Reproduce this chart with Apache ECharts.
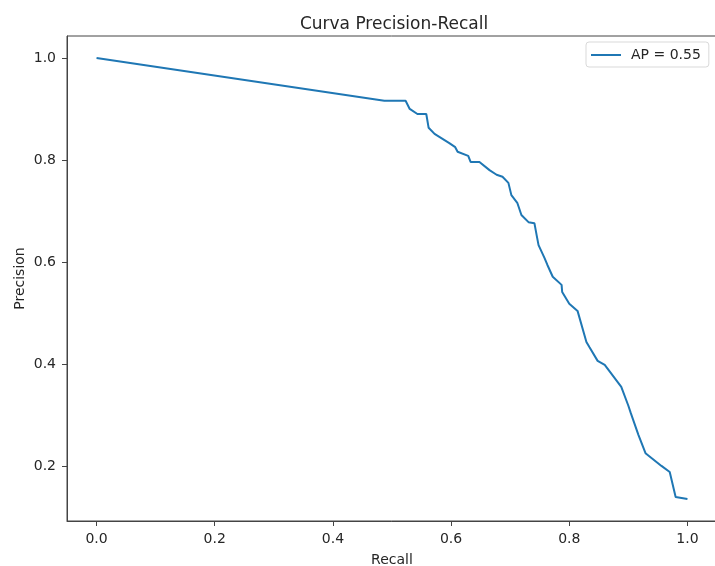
<!DOCTYPE html>
<html>
<head>
<meta charset="utf-8">
<title>Curva Precision-Recall</title>
<script src="https://cdn.jsdelivr.net/npm/echarts@6/dist/echarts.min.js"></script>
<style>
  html, body { margin: 0; padding: 0; background: #ffffff; }
  #chart { width: 715px; height: 566px; }
</style>
</head>
<body>
<div id="chart"></div>
<script>
// Precision-recall curve samples (recall, precision)
const recall = [
  0.000, 0.487, 0.523, 0.530, 0.543, 0.558, 0.562, 0.572, 0.597, 0.607,
  0.611, 0.629, 0.633, 0.648, 0.665, 0.677, 0.687, 0.697, 0.702, 0.712,
  0.719, 0.731, 0.741, 0.745, 0.748, 0.758, 0.763, 0.772, 0.787, 0.788,
  0.800, 0.814, 0.829, 0.834, 0.848, 0.860, 0.888, 0.900, 0.904, 0.917,
  0.929, 0.956, 0.970, 0.980, 1.000
];
const precision = [
  1.000, 0.916, 0.916, 0.900, 0.890, 0.890, 0.863, 0.851, 0.833, 0.825,
  0.816, 0.808, 0.796, 0.796, 0.780, 0.771, 0.767, 0.755, 0.731, 0.716,
  0.692, 0.678, 0.676, 0.651, 0.633, 0.608, 0.594, 0.571, 0.555, 0.541,
  0.518, 0.504, 0.443, 0.433, 0.406, 0.398, 0.355, 0.318, 0.304, 0.261,
  0.225, 0.200, 0.188, 0.139, 0.135
];
const seriesName = 'AP = 0.55';
const xTicks = [0.0, 0.2, 0.4, 0.6, 0.8, 1.0];
const yTicks = [0.2, 0.4, 0.6, 0.8, 1.0];

const points = recall.map((r, i) => [r, precision[i]]);

const font = 'DejaVu Sans';
const textColor = '#262626';
const spineColor = '#444444';
const lineColor = '#1f77b4';

const chart = echarts.init(document.getElementById('chart'), null, { renderer: 'canvas' });
chart.setOption({
  animation: false,
  backgroundColor: '#ffffff',
  title: {
    text: 'Curva Precision-Recall',
    left: 389,
    textAlign: 'center',
    top: 11,
    textStyle: { fontFamily: font, fontSize: 17, fontWeight: 'normal', color: textColor }
  },
  legend: {
    data: [{ name: seriesName, icon: 'path://M0 0 H30 V2 H0 Z' }],
    left: 586,
    top: 42,
    orient: 'vertical',
    itemWidth: 30,
    itemHeight: 2,
    padding: [6, 8, 5, 5],
    backgroundColor: '#ffffff',
    borderColor: '#d9d9d9',
    borderWidth: 1,
    borderRadius: 3,
    itemStyle: { color: lineColor },
    textStyle: { fontFamily: font, fontSize: 14, color: textColor, padding: [0, 0, 0, 5] }
  },
  grid: {
    left: 67,
    right: -2,
    top: 36,
    bottom: 45,
    outerBoundsMode: 'none',
    containLabel: false,
    show: true,
    borderColor: spineColor,
    borderWidth: 1,
    backgroundColor: 'transparent'
  },
  xAxis: {
    type: 'value',
    min: -0.05,
    max: 1.05,
    name: 'Recall',
    nameLocation: 'middle',
    nameGap: 32,
    nameMoveOverlap: false,
    nameTextStyle: { fontFamily: font, fontSize: 14, color: textColor },
    axisLine: { show: true, onZero: false, lineStyle: { color: spineColor, width: 1 } },
    axisTick: { show: true, inside: false, length: 5, customValues: xTicks, lineStyle: { color: spineColor } },
    axisLabel: {
      customValues: xTicks,
      margin: 11,
      fontFamily: font, fontSize: 14, color: textColor,
      formatter: v => v.toFixed(1)
    },
    splitLine: { show: false }
  },
  yAxis: {
    type: 'value',
    min: 0.092,
    max: 1.043,
    name: 'Precision',
    nameLocation: 'middle',
    nameGap: 40,
    nameMoveOverlap: false,
    nameTextStyle: { fontFamily: font, fontSize: 14, color: textColor },
    axisLine: { show: true, onZero: false, lineStyle: { color: spineColor, width: 1 } },
    axisTick: { show: true, inside: false, length: 5, customValues: yTicks, lineStyle: { color: spineColor } },
    axisLabel: {
      customValues: yTicks,
      margin: 11,
      fontFamily: font, fontSize: 14, color: textColor,
      formatter: v => v.toFixed(1)
    },
    splitLine: { show: false }
  },
  series: [{
    name: seriesName,
    type: 'line',
    data: points,
    symbol: 'none',
    showSymbol: false,
    lineStyle: { color: lineColor, width: 2 },
    itemStyle: { color: lineColor }
  }]
});
</script>
</body>
</html>
